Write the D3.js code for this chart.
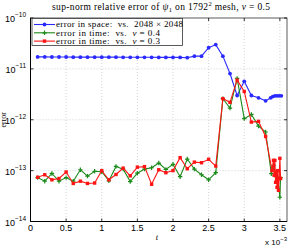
<!doctype html>
<html>
  <head>
    <script src="https://cdn.jsdelivr.net/npm/d3@7"></script>
    <style>
    body { margin: 0; background: #fff; }
    .tick-lab { font: 9px "Liberation Sans", sans-serif; fill: #000; }
    .tex { font-family: "Liberation Serif", "DejaVu Serif", serif; fill: #000; white-space: pre; }
    .grid { stroke: #c8c8c8; stroke-width: 0.8; stroke-dasharray: 1,2; }
    </style>
  </head>
  <body>
    <script>
      var w_svg = 292, h_svg = 246;

      // times are in units of 1e-3
      var t_space = [0.1,0.2,0.3,0.4,0.5,0.6,0.7,0.8,0.9,1.0,1.1,1.2,1.3,1.4,1.5,1.6,1.7,1.8,1.9,2.0,2.1,2.2,
                     2.3,2.4,2.5,2.6,2.7,2.8,2.9,3.0,3.1,3.2,3.3,3.37,3.40,3.43,3.46,3.49,3.52];
      var err_space = [1.72e-11,1.72e-11,1.71e-11,1.71e-11,1.71e-11,1.70e-11,1.70e-11,1.70e-11,1.70e-11,1.70e-11,
                       1.70e-11,1.70e-11,1.69e-11,1.69e-11,1.69e-11,1.69e-11,1.69e-11,1.68e-11,1.68e-11,1.68e-11,
                       1.68e-11,1.66e-11,1.78e-11,1.78e-11,2.6e-11,3.0e-11,1.78e-11,8.1e-12,3.0e-12,5.7e-12,
                       3.0e-12,2.7e-12,2.35e-12,2.7e-12,2.85e-12,2.95e-12,2.95e-12,2.95e-12,2.95e-12];

      var t_nu04 = [0.1,0.2,0.3,0.4,0.5,0.6,0.7,0.8,0.9,1.0,1.1,1.2,1.3,1.4,1.5,1.6,1.7,1.8,1.9,2.0,2.1,2.2,
                    2.3,2.4,2.5,2.6,2.7,2.8,2.9,3.0,3.1,3.2,3.3,3.38,3.41,3.43,3.45,3.47,3.50,3.51];
      var err_nu04 = [7.3e-14,6.2e-14,8.8e-14,6.2e-14,7.3e-14,6.2e-14,1.04e-13,7.8e-14,9.7e-14,9.5e-14,
                      6.3e-14,1.21e-13,1.07e-13,6.1e-14,8.9e-14,1.07e-13,1.14e-13,1.41e-13,1.06e-13,1.33e-13,
                      7.6e-14,1.69e-13,1.07e-13,8.3e-14,6.6e-14,9.1e-14,2.6e-12,1.7e-12,6.5e-12,1.05e-12,
                      1.27e-12,7.5e-13,5.75e-13,8.7e-14,1.27e-13,8.1e-14,9.4e-14,7.4e-14,3.0e-14,7.3e-14];

      var t_nu03 = [0.1,0.2,0.3,0.4,0.5,0.6,0.7,0.8,0.9,1.0,1.1,1.2,1.3,1.4,1.5,1.6,1.7,1.8,1.9,2.0,2.1,2.2,
                    2.3,2.4,2.5,2.6,2.7,2.8,2.9,3.0,3.1,3.2,3.3,3.39,3.41,3.42,3.43,3.44,3.45,3.46,3.47,3.48,3.49,3.50,3.51];
      var err_nu03 = [7.4e-14,8.3e-14,6.6e-14,7.0e-14,9.4e-14,5.6e-14,6.2e-14,5.6e-14,5.7e-14,1.0e-13,
                      6.6e-14,8.4e-14,1.12e-13,7.9e-14,1.17e-13,1.2e-13,5.4e-14,1.04e-13,9.1e-14,1.0e-13,
                      1.8e-13,1.09e-13,1.47e-13,1.43e-13,1.67e-13,1.23e-13,2.6e-12,2.2e-12,6.0e-12,3.6e-12,
                      9.0e-13,9.3e-13,4.7e-13,1.0e-13,1.59e-13,8.1e-14,1.59e-13,5.9e-14,9.2e-14,4.7e-14,
                      1.0e-13,4.1e-14,7.0e-14,1.74e-13,7.0e-14];

      var x_ticks = [0,0.5,1,1.5,2,2.5,3,3.5];
      var x_tick_labels = ["0","0.5","1","1.5","2","2.5","3","3.5"];
      var y_ticks = [1e-14,1e-13,1e-12,1e-11,1e-10];
      var y_tick_exps = ["\u221214","\u221213","\u221212","\u221211","\u221210"];

      var ax_l = 30.5, ax_r = 287, ax_t = 18, ax_b = 221.5;

      var svg = d3.select("body").append("svg")
                  .attr("width", w_svg).attr("height", h_svg);

      var x = d3.scaleLinear().domain([0, 3.6]).range([ax_l, ax_r]);
      var y = d3.scaleLog().domain([1e-14, 1e-10]).range([ax_b, ax_t]);

      // grid
      svg.selectAll(".gx").data(x_ticks.slice(1)).enter().append("line")
         .attr("class", "grid")
         .attr("x1", function(d){ return x(d); }).attr("x2", function(d){ return x(d); })
         .attr("y1", ax_t).attr("y2", ax_b);
      svg.selectAll(".gy").data(y_ticks.slice(1, 4)).enter().append("line")
         .attr("class", "grid")
         .attr("y1", function(d){ return y(d); }).attr("y2", function(d){ return y(d); })
         .attr("x1", ax_l).attr("x2", ax_r);

      // box
      svg.append("rect").attr("x", ax_l).attr("y", ax_t)
         .attr("width", ax_r - ax_l).attr("height", ax_b - ax_t)
         .attr("fill", "none").attr("stroke", "#333").attr("stroke-width", 0.8);
      svg.append("line").attr("x1", ax_l).attr("x2", ax_l).attr("y1", ax_t).attr("y2", ax_b)
         .attr("stroke", "#000").attr("stroke-width", 1);
      svg.append("line").attr("x1", ax_l).attr("x2", ax_r).attr("y1", ax_b).attr("y2", ax_b)
         .attr("stroke", "#000").attr("stroke-width", 1);

      // ticks
      x_ticks.forEach(function(d){
        svg.append("line").attr("x1", x(d)).attr("x2", x(d)).attr("y1", ax_b).attr("y2", ax_b - 3)
           .attr("stroke", "#000").attr("stroke-width", 0.8);
        svg.append("line").attr("x1", x(d)).attr("x2", x(d)).attr("y1", ax_t).attr("y2", ax_t + 3)
           .attr("stroke", "#000").attr("stroke-width", 0.8);
      });
      y_ticks.forEach(function(d){
        svg.append("line").attr("x1", ax_l).attr("x2", ax_l + 3).attr("y1", y(d)).attr("y2", y(d))
           .attr("stroke", "#000").attr("stroke-width", 0.8);
        svg.append("line").attr("x1", ax_r).attr("x2", ax_r - 3).attr("y1", y(d)).attr("y2", y(d))
           .attr("stroke", "#000").attr("stroke-width", 0.8);
      });

      svg.selectAll(".xl").data(x_ticks).enter().append("text")
         .attr("class", "tick-lab")
         .attr("x", function(d){ return x(d); }).attr("y", 231)
         .attr("text-anchor", "middle")
         .text(function(d, i){ return x_tick_labels[i]; });

      y_ticks.forEach(function(d, i){
        var t = svg.append("text").attr("class", "tick-lab")
                   .attr("x", 26).attr("y", y(d) + 4).attr("text-anchor", "end");
        t.append("tspan").text("10");
        t.append("tspan").attr("dy", -5).attr("font-size", 6.5).text(y_tick_exps[i]);
      });

      var mult = svg.append("text").attr("class", "tick-lab").attr("x", 287).attr("y", 245)
                    .attr("text-anchor", "end");
      mult.append("tspan").attr("font-size", 8).text("x 10");
      mult.append("tspan").attr("dy", -4).attr("font-size", 6).text("\u22123");

      // axis labels
      svg.append("text").attr("class", "tex").attr("font-size", 8.5).attr("font-style", "italic")
         .attr("x", 157).attr("y", 240).attr("text-anchor", "middle").text("t");
      svg.append("text").attr("class", "tex").attr("font-size", 8).attr("fill", "#222")
         .attr("transform", "translate(6," + ((ax_t + ax_b) / 2) + ") rotate(-90)")
         .attr("text-anchor", "middle").text("error");

      // title
      var title = svg.append("text").attr("class", "tex").attr("font-size", 9.5)
                     .attr("x", 52).attr("y", 10)
                     .attr("textLength", 218).attr("lengthAdjust", "spacing");
      title.append("tspan").text("sup-norm relative error of ");
      title.append("tspan").attr("font-style", "italic").text("\u03c8");
      title.append("tspan").attr("font-size", 6.5).attr("dy", 2).text("1");
      title.append("tspan").attr("dy", -2).text(" on 1792");
      title.append("tspan").attr("font-size", 6.5).attr("dy", -4).text("2");
      title.append("tspan").attr("dy", 4).text(" mesh, ");
      title.append("tspan").attr("font-style", "italic").text("\u03bd");
      title.append("tspan").text(" = 0.5");

      // series
      var series = [
        {t: t_space, v: err_space, color: "#2a2aff", marker: "circle"},
        {t: t_nu04, v: err_nu04, color: "#1a8a1a", marker: "plus"},
        {t: t_nu03, v: err_nu03, color: "#ff1414", marker: "square"}
      ];

      var line = d3.line().x(function(d){ return x(d[0]); }).y(function(d){ return y(d[1]); });

      function draw_marker(g, px, py, s) {
        if (s.marker == "circle") {
          g.append("circle").attr("cx", px).attr("cy", py).attr("r", 1.9).attr("fill", s.color);
        } else if (s.marker == "square") {
          g.append("rect").attr("x", px - 1.7).attr("y", py - 1.7).attr("width", 3.4).attr("height", 3.4)
           .attr("fill", s.color);
        } else {
          g.append("path").attr("d", "M" + (px - 2.2) + "," + py + "h4.4M" + px + "," + (py - 2.2) + "v4.4")
           .attr("stroke", s.color).attr("stroke-width", 1.2);
        }
      }

      series.forEach(function(s){
        var pts = s.t.map(function(t, i){ return [t, s.v[i]]; });
        var g = svg.append("g");
        g.append("path").attr("d", line(pts)).attr("fill", "none")
         .attr("stroke", s.color).attr("stroke-width", 1.1);
        pts.forEach(function(p){ draw_marker(g, x(p[0]), y(p[1]), s); });
      });

      // legend
      var leg = svg.append("g");
      leg.append("rect").attr("x", 32).attr("y", 18.5).attr("width", 150.5).attr("height", 27)
         .attr("fill", "#fff").attr("stroke", "#333").attr("stroke-width", 0.8);
      var leg_rows = [
        ["error in space:  vs.  2048 \u00d7 2048"],
        ["error in time:  vs.  ", "\u03bd", " = 0.4"],
        ["error in time:  vs.  ", "\u03bd", " = 0.3"]
      ];
      var leg_len = [127, 104, 104];
      series.forEach(function(s, i){
        var ly = 24.5 + i * 8.3;
        leg.append("line").attr("x1", 34).attr("x2", 55).attr("y1", ly).attr("y2", ly)
           .attr("stroke", s.color).attr("stroke-width", 1.1);
        draw_marker(leg, 44.5, ly, s);
        var t = leg.append("text").attr("class", "tex").attr("font-size", 9)
                   .attr("x", 56).attr("y", ly + 2.8)
                   .attr("textLength", leg_len[i]).attr("lengthAdjust", "spacing");
        leg_rows[i].forEach(function(part, k){
          t.append("tspan").attr("font-style", k == 1 ? "italic" : null).text(part);
        });
      });
    </script>
  </body>
</html>
